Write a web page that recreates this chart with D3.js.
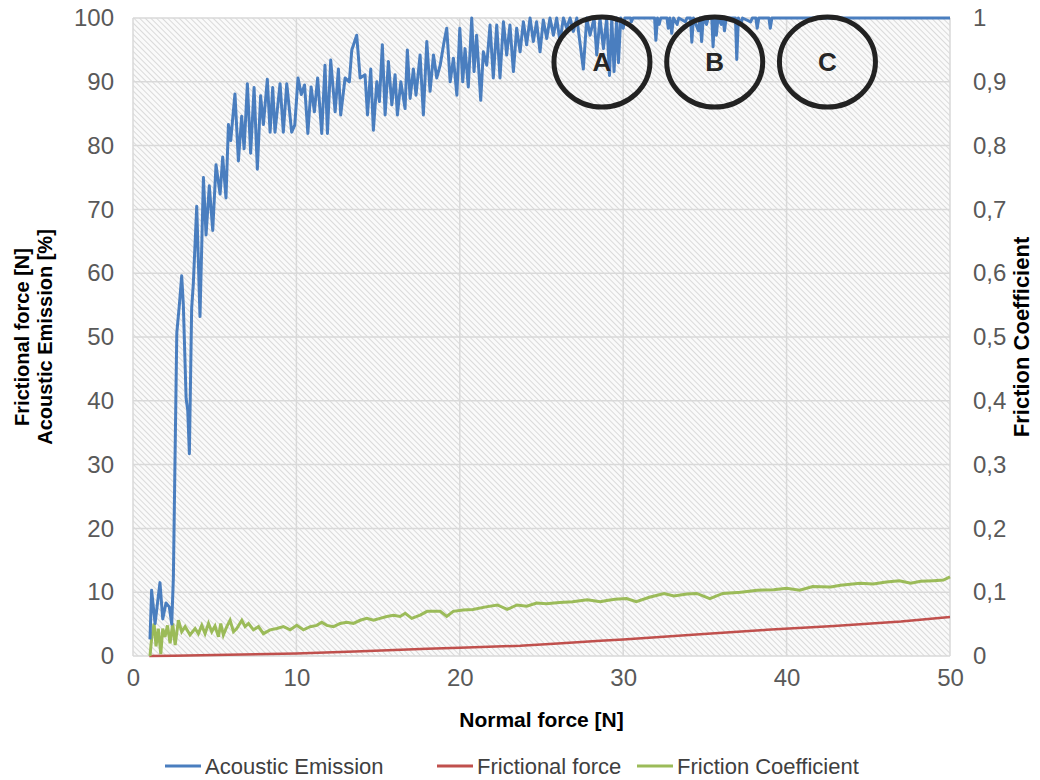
<!DOCTYPE html>
<html>
<head>
<meta charset="utf-8">
<script src="https://cdn.jsdelivr.net/npm/d3@7"></script>
<style>
  body { margin: 0; background: #fff; }
  svg { font-family: "Liberation Sans", Arial, sans-serif; }
</style>
</head>
<body>
<div id="chart"></div>
<script>
// Acoustic Emission [%] vs normal force [N] (left axis)
const acousticEmission = [
  [1.04, 2.6], [1.14, 10.3], [1.35, 5.1], [1.65, 11.5], [1.82, 5.8], [2.02, 8.3], [2.22, 7.7],
  [2.37, 5.0], [2.47, 12.2], [2.68, 50.6], [2.84, 55.1], [2.98, 59.6], [3.08, 55.1], [3.25, 40.4],
  [3.35, 38.5], [3.45, 31.7], [3.59, 54.5], [3.69, 58.3], [3.9, 70.5], [4.1, 53.2], [4.31, 75.0],
  [4.47, 66.0], [4.67, 73.7], [4.88, 66.7], [5.08, 77.0], [5.33, 72.4], [5.49, 78.2], [5.69, 71.8],
  [5.84, 83.3], [5.98, 80.8], [6.24, 88.1], [6.45, 77.6], [6.65, 84.6], [6.8, 79.5], [7.0, 89.7],
  [7.2, 78.8], [7.41, 89.1], [7.61, 76.3], [7.81, 87.8], [7.98, 83.3], [8.22, 90.4], [8.39, 82.1],
  [8.55, 89.1], [8.69, 82.1], [9.0, 89.7], [9.2, 82.1], [9.41, 89.7], [9.71, 82.1],
  [9.9, 83.2], [10.1, 90.6], [10.3, 88.0], [10.5, 89.5], [10.7, 81.9], [10.9, 89.2], [11.1, 85.3],
  [11.3, 90.6], [11.55, 81.9], [11.75, 92.6], [11.9, 81.9], [12.1, 93.4], [12.37, 85.3], [12.57, 92.0],
  [12.71, 84.8], [12.98, 90.6], [13.24, 90.0], [13.39, 95.0], [13.69, 97.3], [13.9, 90.6], [14.2, 91.1],
  [14.35, 84.8], [14.55, 92.0], [14.71, 82.4], [14.92, 90.0], [15.08, 86.9], [15.26, 95.8], [15.43, 84.8],
  [15.63, 93.2], [15.84, 86.4], [16.04, 91.1], [16.18, 84.8], [16.39, 90.0], [16.65, 85.8], [16.79, 95.0],
  [16.96, 87.4], [17.16, 92.0], [17.32, 87.9], [17.57, 94.2], [17.77, 84.8], [17.98, 96.3], [18.18, 88.5],
  [18.39, 94.2], [18.59, 90.6], [18.8, 92.6], [19.04, 96.3], [19.2, 98.4], [19.41, 90.0], [19.61, 93.7],
  [19.82, 87.9], [20.0, 98.4], [20.18, 90.0], [20.32, 95.2], [20.52, 89.2], [20.73, 100], [20.87, 91.6],
  [21.03, 97.3], [21.28, 87.1], [21.44, 94.7], [21.65, 92.6], [21.85, 98.9], [22.05, 90.6], [22.26, 98.9],
  [22.46, 90.6], [22.67, 99.4], [22.87, 94.2], [23.07, 98.9], [23.28, 91.6], [23.48, 98.4], [23.69, 94.7],
  [23.89, 99.4], [24.09, 95.8], [24.3, 100], [24.5, 96.3], [24.7, 99.4], [24.91, 94.7], [25.11, 99.7],
  [25.32, 96.8], [25.52, 100], [25.73, 97.3], [25.93, 100], [26.13, 96.3], [26.34, 100], [26.54, 98.4],
  [26.75, 100], [26.95, 97.9], [27.16, 100], [27.56, 92.0], [27.77, 100], [27.97, 97.3], [28.22, 100],
  [28.38, 94.2], [28.58, 100], [28.79, 95.2], [28.99, 100], [29.16, 91.0], [29.3, 100], [29.44, 91.6],
  [29.6, 100], [29.71, 93.0], [29.85, 100], [30.0, 98.4], [30.1, 100], [30.45, 100], [30.5, 99.4],
  [30.6, 100], [31.92, 100], [32.0, 96.5], [32.1, 100], [32.2, 99.0], [32.3, 100], [32.68, 100],
  [32.76, 98.4], [32.86, 100], [32.97, 97.6], [33.08, 100], [33.3, 99.0], [33.4, 100], [33.8, 99.4],
  [33.9, 100], [34.12, 100], [34.2, 96.2], [34.3, 100], [34.6, 98.0], [34.7, 100], [34.8, 96.3],
  [34.9, 100], [35.1, 99.0], [35.2, 100], [35.42, 100], [35.5, 95.5], [35.6, 100], [35.7, 97.3],
  [35.8, 100], [36.0, 99.0], [36.1, 100], [36.2, 98.0], [36.3, 100], [36.87, 100], [36.95, 93.5],
  [37.05, 100], [37.2, 99.0], [37.3, 100], [37.8, 99.4], [37.9, 100], [38.12, 100], [38.2, 98.4],
  [38.3, 100], [38.92, 100], [39.0, 98.4], [39.1, 100], [50, 100]
];

// Frictional force [N] (left axis)
const frictionalForce = [
  [1.0, 0], [2.5, 0.05], [5, 0.15], [10, 0.4], [14, 0.75], [18, 1.15], [20, 1.3], [23.7, 1.6],
  [26, 1.95], [28.6, 2.4], [30, 2.6], [34.7, 3.4], [38.8, 4.1], [42.9, 4.7], [47, 5.4], [50, 6.1]
];

// Friction coefficient (right axis)
const frictionCoefficient = [
  [1.04, 0], [1.15, 0.03], [1.29, 0.051], [1.41, 0.015], [1.55, 0.043], [1.7, 0.003], [1.82, 0.043],
  [1.96, 0.03], [2.11, 0.048], [2.27, 0.02], [2.43, 0.051], [2.58, 0.017], [2.78, 0.056], [2.98, 0.038],
  [3.19, 0.046], [3.49, 0.033], [3.8, 0.043], [4.0, 0.035], [4.21, 0.048], [4.41, 0.035], [4.62, 0.051],
  [4.82, 0.038], [5.02, 0.047], [5.23, 0.03], [5.37, 0.051], [5.53, 0.033], [5.74, 0.046], [5.94, 0.056],
  [6.15, 0.038], [6.35, 0.043], [6.66, 0.056], [6.86, 0.046], [7.07, 0.051], [7.37, 0.041], [7.68, 0.046],
  [7.98, 0.035], [8.39, 0.041], [8.8, 0.043], [9.21, 0.046], [9.62, 0.041], [10.02, 0.048], [10.43, 0.041],
  [10.84, 0.046], [11.25, 0.048], [11.55, 0.053], [11.86, 0.048], [12.27, 0.046], [12.68, 0.051],
  [13.08, 0.053], [13.49, 0.051], [13.9, 0.056], [14.31, 0.059], [14.72, 0.056], [15.12, 0.059],
  [15.53, 0.062], [15.94, 0.064], [16.35, 0.062], [16.66, 0.067], [17.06, 0.059], [17.57, 0.064],
  [18.0, 0.07], [18.8, 0.07], [19.2, 0.062], [19.6, 0.07], [20.2, 0.072], [20.8, 0.073], [21.6, 0.077],
  [22.3, 0.08], [22.9, 0.073], [23.5, 0.08], [24.1, 0.078], [24.7, 0.083], [25.3, 0.082], [26.1, 0.084],
  [26.9, 0.085], [27.8, 0.088], [28.6, 0.085], [29.0, 0.087], [29.5, 0.089], [30.2, 0.09], [30.8, 0.085],
  [31.6, 0.092], [32.5, 0.098], [33.1, 0.094], [33.9, 0.097], [34.5, 0.098], [35.3, 0.09], [36.1, 0.098],
  [37.2, 0.1], [38.2, 0.103], [39.2, 0.104], [40.0, 0.106], [40.8, 0.103], [41.6, 0.109], [42.7, 0.108],
  [43.3, 0.111], [44.5, 0.114], [45.3, 0.113], [46.1, 0.116], [46.9, 0.118], [47.6, 0.114], [48.2, 0.117],
  [49.0, 0.118], [49.6, 0.119], [50, 0.124]
];

const xTicks = [0, 10, 20, 30, 40, 50];
const leftTicks = [0, 10, 20, 30, 40, 50, 60, 70, 80, 90, 100];
const rightTicks = [0, 0.1, 0.2, 0.3, 0.4, 0.5, 0.6, 0.7, 0.8, 0.9, 1];

const seriesNames = ['Acoustic Emission', 'Frictional force', 'Friction Coefficient'];
const seriesColors = ['#4a7ebf', '#c0504d', '#9bbb59'];

// marked regions on the AE plateau
const regionLabels = ['A', 'B', 'C'];
const regionCenters = [28.7, 35.6, 42.5]; // x in N
const regionLevel = 93.1; // y in %

const width = 1040, height = 780;
const margin = { top: 18, right: 90, bottom: 124, left: 133 };
const innerW = width - margin.left - margin.right;
const innerH = height - margin.top - margin.bottom;

const svg = d3.select('#chart').append('svg')
  .attr('width', width)
  .attr('height', height);

const defs = svg.append('defs');
const hatch = defs.append('pattern')
  .attr('id', 'hatch')
  .attr('patternUnits', 'userSpaceOnUse')
  .attr('width', 4)
  .attr('height', 4)
  .attr('patternTransform', 'rotate(-45)');
hatch.append('rect').attr('width', 4).attr('height', 4).attr('fill', '#fafafa');
hatch.append('line')
  .attr('x1', 0).attr('y1', 0).attr('x2', 0).attr('y2', 4)
  .attr('stroke', '#d2d2d2').attr('stroke-width', 1.6);

const x = d3.scaleLinear().domain([0, 50]).range([0, innerW]);
const yL = d3.scaleLinear().domain([0, 100]).range([innerH, 0]);
const yR = d3.scaleLinear().domain([0, 1]).range([innerH, 0]);

const g = svg.append('g').attr('transform', `translate(${margin.left},${margin.top})`);

g.append('rect')
  .attr('width', innerW)
  .attr('height', innerH)
  .attr('fill', 'url(#hatch)');

// grid
g.append('g').selectAll('line').data(leftTicks).join('line')
  .attr('x1', 0).attr('x2', innerW)
  .attr('y1', d => yL(d)).attr('y2', d => yL(d))
  .attr('stroke', '#d9d9d9').attr('stroke-width', 1.5);
g.append('g').selectAll('line').data(xTicks).join('line')
  .attr('y1', 0).attr('y2', innerH)
  .attr('x1', d => x(d)).attr('x2', d => x(d))
  .attr('stroke', '#d9d9d9').attr('stroke-width', 1.5);

// axes (labels only)
const fmtComma = d => String(d).replace('.', ',');

const xAxis = g.append('g')
  .attr('transform', `translate(0,${innerH})`)
  .call(d3.axisBottom(x).tickValues(xTicks).tickSize(0).tickPadding(13));
const leftAxis = g.append('g')
  .call(d3.axisLeft(yL).tickValues(leftTicks).tickSize(0).tickPadding(19));
const rightAxis = g.append('g')
  .attr('transform', `translate(${innerW},0)`)
  .call(d3.axisRight(yR).tickValues(rightTicks).tickFormat(fmtComma).tickSize(0).tickPadding(23));

[xAxis, leftAxis, rightAxis].forEach(a => {
  a.select('.domain').remove();
  a.selectAll('text')
    .attr('font-family', '"Liberation Sans", Arial, sans-serif')
    .attr('font-size', 24)
    .attr('fill', '#595959');
});

// lines
const lineL = d3.line().x(d => x(d[0])).y(d => yL(d[1]));
const lineR = d3.line().x(d => x(d[0])).y(d => yR(d[1]));

g.append('path').datum(frictionalForce)
  .attr('d', lineL).attr('fill', 'none')
  .attr('stroke', seriesColors[1]).attr('stroke-width', 2.5);
g.append('path').datum(frictionCoefficient)
  .attr('d', lineR).attr('fill', 'none')
  .attr('stroke', seriesColors[2]).attr('stroke-width', 3);
g.append('path').datum(acousticEmission)
  .attr('d', lineL).attr('fill', 'none')
  .attr('stroke', seriesColors[0]).attr('stroke-width', 3)
  .attr('stroke-linejoin', 'round');

// circled regions
const marks = g.append('g').selectAll('g').data(regionLabels).join('g')
  .attr('transform', (d, i) => `translate(${x(regionCenters[i])},${yL(regionLevel)})`);
marks.append('ellipse')
  .attr('rx', 48).attr('ry', 45)
  .attr('fill', 'none')
  .attr('stroke', '#222').attr('stroke-width', 5);
marks.append('text')
  .attr('text-anchor', 'middle')
  .attr('dy', '0.36em')
  .attr('font-size', 26)
  .attr('font-weight', 'bold')
  .attr('fill', '#262626')
  .text(d => d);

// axis titles
svg.append('text')
  .attr('x', margin.left + innerW / 2)
  .attr('y', 727)
  .attr('text-anchor', 'middle')
  .attr('font-size', 21)
  .attr('font-weight', 'bold')
  .attr('fill', '#000')
  .text('Normal force [N]');

const leftTitle = svg.append('text')
  .attr('transform', `translate(0,${margin.top + innerH / 2}) rotate(-90)`)
  .attr('text-anchor', 'middle')
  .attr('font-size', 20)
  .attr('font-weight', 'bold')
  .attr('fill', '#000');
leftTitle.append('tspan').attr('x', 0).attr('y', 29).text('Frictional force [N]');
leftTitle.append('tspan').attr('x', 0).attr('y', 52).text('Acoustic Emission [%]');

svg.append('text')
  .attr('transform', `translate(1029,${margin.top + innerH / 2}) rotate(-90)`)
  .attr('text-anchor', 'middle')
  .attr('font-size', 22)
  .attr('font-weight', 'bold')
  .attr('fill', '#000')
  .text('Friction Coefficient');

// legend
const legendX = [165, 437, 637];
const legend = svg.append('g').selectAll('g').data(seriesNames).join('g')
  .attr('transform', (d, i) => `translate(${legendX[i]},766)`);
legend.append('line')
  .attr('x1', 0).attr('x2', 36)
  .attr('stroke', (d, i) => seriesColors[i])
  .attr('stroke-width', 3);
legend.append('text')
  .attr('x', 40)
  .attr('dy', '0.35em')
  .attr('font-size', 22)
  .attr('fill', '#404040')
  .text(d => d);
</script>
</body>
</html>
